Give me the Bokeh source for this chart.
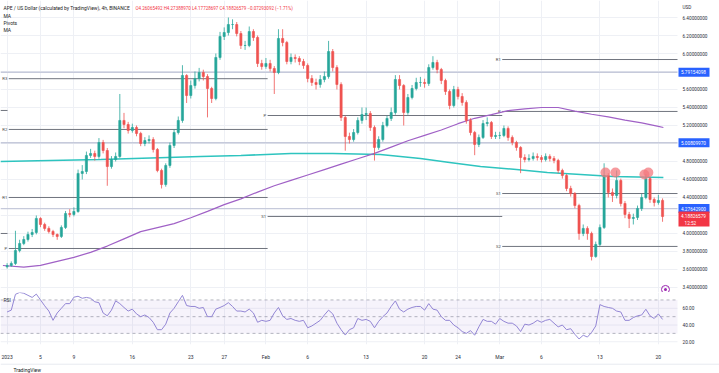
import numpy as np
from bokeh.plotting import figure
from bokeh.layouts import column
from bokeh.models import (ColumnDataSource, FixedTicker, Range1d, Label, BoxAnnotation)
from bokeh.core.properties import value
from bokeh.embed import file_html
from bokeh.resources import INLINE

FONT = "Roboto"
FS = "4.7px"

# ---------------- data (12h candles from 2023-01-01, day units) ----------------
first_open = 3.630
close = [
    3.644, 3.667, 3.811, 3.889, 3.933, 3.989, 4.011, 4.167, 4.100, 4.056,
    4.022, 3.989, 3.967, 4.067, 4.222, 4.211, 4.244, 4.667, 4.689, 4.867,
    4.889, 4.856, 5.011, 4.922, 4.744, 4.822, 4.856, 5.256, 5.211, 5.144,
    5.178, 5.111, 5.000, 5.033, 5.044, 4.933, 4.700, 4.544, 4.756, 4.978,
    5.122, 5.256, 5.756, 5.533, 5.644, 5.722, 5.789, 5.744, 5.611, 5.500,
    5.956, 6.189, 6.233, 6.322, 6.322, 6.222, 6.089, 6.089, 6.244, 6.178,
    5.889, 5.856, 5.889, 5.833, 5.789, 6.167, 6.122, 5.911, 5.956, 5.944,
    5.911, 5.867, 5.722, 5.678, 5.656, 5.711, 5.744, 6.022, 5.844, 5.656,
    5.289, 5.078, 5.044, 5.122, 5.256, 5.322, 5.333, 5.178, 4.956, 5.044,
    5.200, 5.278, 5.344, 5.711, 5.644, 5.344, 5.511, 5.611, 5.678, 5.678,
    5.667, 5.844, 5.900, 5.822, 5.700, 5.578, 5.422, 5.600, 5.522, 5.456,
    5.256, 5.122, 4.989, 5.067, 5.222, 5.233, 5.078, 5.089, 5.089, 5.167,
    5.067, 5.011, 4.956, 4.844, 4.822, 4.833, 4.856, 4.844, 4.822, 4.856,
    4.833, 4.811, 4.700, 4.644, 4.500, 4.444, 4.311, 4.000, 4.056, 4.000,
    3.744, 3.878, 4.067, 4.644, 4.456, 4.422, 4.589, 4.333, 4.211, 4.167,
    4.178, 4.278, 4.400, 4.611, 4.378, 4.344, 4.367, 4.18826579]
high = [
    3.67, 3.69, 4.03, 3.93, 3.97, 4.02, 4.05, 4.20, 4.18, 4.12,
    4.08, 4.04, 4.00, 4.09, 4.25, 4.27, 4.29, 4.71, 4.76, 4.91,
    4.94, 4.92, 5.06, 5.04, 4.95, 4.86, 4.90, 5.55, 5.34, 5.24,
    5.22, 5.20, 5.13, 5.07, 5.09, 5.07, 4.95, 4.72, 4.78, 5.01,
    5.16, 5.30, 5.87, 5.77, 5.70, 5.80, 5.84, 5.82, 5.77, 5.63,
    6.00, 6.24, 6.29, 6.40, 6.38, 6.35, 6.25, 6.14, 6.30, 6.27,
    6.20, 5.93, 5.95, 5.93, 5.86, 6.27, 6.27, 6.14, 6.00, 5.99,
    5.97, 5.94, 5.89, 5.76, 5.72, 5.76, 5.80, 6.14, 6.05, 5.87,
    5.68, 5.31, 5.12, 5.16, 5.29, 5.40, 5.40, 5.36, 5.20, 5.08,
    5.24, 5.31, 5.40, 5.76, 5.76, 5.66, 5.55, 5.65, 5.73, 5.74,
    5.72, 5.88, 5.97, 5.93, 5.84, 5.72, 5.60, 5.64, 5.63, 5.56,
    5.48, 5.28, 5.14, 5.10, 5.26, 5.29, 5.25, 5.13, 5.13, 5.20,
    5.19, 5.09, 5.03, 4.97, 4.88, 4.88, 4.90, 4.89, 4.87, 4.89,
    4.88, 4.86, 4.83, 4.72, 4.66, 4.53, 4.46, 4.33, 4.10, 4.08,
    4.02, 3.91, 4.10, 4.78, 4.67, 4.50, 4.70, 4.61, 4.36, 4.24,
    4.22, 4.31, 4.44, 4.66, 4.63, 4.40, 4.43, 4.39]
low = [
    3.61, 3.63, 3.65, 3.79, 3.87, 3.91, 3.96, 3.99, 4.07, 4.03,
    4.00, 3.96, 3.93, 3.95, 4.05, 4.18, 4.19, 4.23, 4.60, 4.66,
    4.84, 4.81, 4.83, 4.89, 4.53, 4.72, 4.80, 4.84, 5.17, 5.11,
    5.12, 5.08, 4.97, 4.97, 5.00, 4.90, 4.68, 4.50, 4.52, 4.73,
    4.95, 5.10, 5.23, 5.45, 5.50, 5.61, 5.69, 5.70, 5.29, 5.45,
    5.48, 5.93, 6.15, 6.20, 6.27, 6.19, 6.05, 6.04, 6.07, 6.14,
    5.85, 5.82, 5.83, 5.80, 5.55, 5.77, 6.08, 5.88, 5.88, 5.90,
    5.87, 5.83, 5.68, 5.64, 5.60, 5.62, 5.68, 5.72, 5.80, 5.60,
    5.25, 4.92, 5.00, 5.02, 5.10, 5.22, 5.26, 5.14, 4.81, 4.93,
    5.02, 5.18, 5.25, 5.32, 5.60, 5.20, 5.32, 5.49, 5.59, 5.63,
    5.62, 5.64, 5.82, 5.78, 5.66, 5.54, 5.38, 5.40, 5.49, 5.42,
    5.22, 5.09, 4.87, 4.96, 5.05, 5.19, 5.05, 5.05, 5.05, 5.07,
    5.03, 4.98, 4.92, 4.67, 4.79, 4.80, 4.81, 4.81, 4.79, 4.80,
    4.80, 4.78, 4.67, 4.61, 4.47, 4.41, 4.28, 3.93, 3.97, 3.93,
    3.70, 3.73, 3.86, 4.05, 4.40, 4.35, 4.39, 4.30, 4.17, 4.06,
    4.10, 4.15, 4.25, 4.38, 4.34, 4.30, 4.32, 4.13]
rsi = [
    55.6, 57.8, 76.7, 79.0, 78.0, 75.5, 73.0, 77.0, 70.0, 63.0,
    56.7, 45.6, 54.4, 60.0, 65.6, 65.6, 73.3, 74.4, 72.0, 73.0,
    72.0, 67.8, 66.7, 54.4, 51.0, 57.8, 68.9, 65.6, 61.0, 56.7,
    59.0, 53.3, 50.0, 52.0, 49.0, 43.3, 34.4, 34.4, 41.0, 54.4,
    60.0, 67.8, 75.5, 63.3, 62.2, 62.2, 60.0, 61.0, 50.0, 50.0,
    59.0, 61.0, 63.3, 66.7, 62.2, 56.7, 56.7, 55.6, 59.0, 54.4,
    43.3, 45.6, 44.4, 45.6, 54.4, 61.0, 51.0, 46.7, 47.8, 45.6,
    44.4, 45.6, 36.7, 38.9, 42.2, 45.6, 52.0, 57.8, 53.3, 42.2,
    34.4, 28.0, 34.4, 36.7, 47.8, 45.6, 46.7, 44.4, 36.7, 44.4,
    50.0, 54.4, 62.2, 68.9, 58.9, 55.6, 59.0, 61.0, 62.2, 62.2,
    57.8, 65.6, 59.0, 57.8, 50.0, 45.6, 45.6, 40.0, 36.7, 32.2,
    30.0, 33.3, 27.8, 37.8, 46.7, 44.4, 44.4, 41.0, 47.8, 44.4,
    42.2, 42.2, 38.9, 32.2, 41.0, 40.0, 42.2, 45.6, 43.3, 45.6,
    46.7, 42.2, 37.8, 40.0, 34.4, 35.6, 28.9, 23.3, 27.8, 25.6,
    31.1, 38.9, 64.4, 62.2, 61.0, 60.0, 56.7, 55.6, 45.6, 45.6,
    48.9, 51.0, 52.0, 58.9, 51.0, 47.8, 53.3, 46.7]

# moving averages (read at selected days)
ma_teal_days = [-0.8, 5.2, 11.2, 17.2, 23.2, 28.0, 34.0, 39.0, 44.7, 49.5,
                53.0, 56.7, 61.0, 64.7, 68.7, 72.6, 78.6]
ma_teal = [4.800, 4.811, 4.822, 4.839, 4.856, 4.867, 4.889, 4.889, 4.878, 4.833,
           4.789, 4.744, 4.711, 4.678, 4.656, 4.633, 4.622]
ma_purple_days = [-0.5, 2, 4, 6, 8, 10, 12, 14, 16, 18, 20, 22, 24, 26, 28, 30,
                  32, 34, 36, 38, 40, 42, 44, 46, 48, 50, 52, 54, 56, 58, 60, 62,
                  64, 66, 68, 70, 72, 74, 76, 78, 78.6]
ma_purple = [3.644, 3.625, 3.645, 3.690, 3.735, 3.790, 3.860, 3.940, 4.020, 4.065,
             4.110, 4.175, 4.245, 4.320, 4.385, 4.460, 4.530, 4.590, 4.650, 4.710,
             4.770, 4.830, 4.890, 4.960, 5.030, 5.090, 5.150, 5.220, 5.280, 5.320,
             5.365, 5.385, 5.400, 5.400, 5.360, 5.325, 5.295, 5.260, 5.230, 5.190,
             5.178]

# monthly pivots
pivot_names = ["R3", "R2", "R1", "P", "P", "S1", "R1", "P", "S1", "S2"]
pivot_values = [5.720, 5.156, 4.400, 3.833, 5.311, 4.189, 5.933, 5.356, 4.444, 3.856]
pivot_start = [0.2, 0.2, 0.2, 0.2, 31.2, 31.2, 59.3, 59.3, 59.3, 59.3]
pivot_end = [31.2, 31.2, 31.2, 31.2, 59.3, 59.3, 80.29, 80.29, 80.29, 80.29]
prev_pivot_values = [5.367, 4.000]

level_values = [5.79154098, 5.00809970, 4.27642900]
last_price = 4.18826579
countdown = "12:52"

mark_days = [71.66, 72.86, 76.33, 76.80]
mark_prices = [4.678, 4.678, 4.656, 4.678]

date_ticks = [0, 4, 8, 15, 22, 26, 31, 36, 43, 50, 54, 59, 64, 71, 78]
date_labels = ["2023", "5", "9", "16", "23", "27", "Feb", "6", "13", "20", "24",
               "Mar", "6", "13", "20"]
price_ticks = [6.4, 6.2, 6.0, 5.6, 5.4, 5.2, 4.8, 4.6, 4.4, 4.0, 3.8, 3.6, 3.4]
price_grid = [6.4, 6.2, 6.0, 5.8, 5.6, 5.4, 5.2, 5.0, 4.8, 4.6, 4.4, 4.2, 4.0, 3.8, 3.6, 3.4]
rsi_ticks = [20, 40, 60]
rsi_bands = [70, 50, 30]

header = "APE / US Dollar (calculated by TradingView), 4h, BINANCE"
ohlc_text = "O4.26065492 H4.27388970 L4.17728697 C4.18826579 \u22120.07293092 (\u22121.71%)"

# ---------------- geometry ----------------
W = 719
FRAME_W = 677          # plotting area width (px); the rest is the price scale
X0, X1 = -0.79, 80.29  # visible days in the plotting area
SCALE = FRAME_W / (X1 - X0)
XEND = X1 + (W - FRAME_W) / SCALE
AX_TXT = X1 + 5 / SCALE
BOX_C = X1 + 16.5 / SCALE
GRID = "#eef0f5"
TXT = "#2a2e39"

# ---------------- derived ----------------
t = np.arange(len(close)) * 0.5
opens = [first_open] + close[:-1]
GREEN, RED = "#26a69a", "#ef5350"
colors = [GREEN if c >= o else RED for o, c in zip(opens, close)]
src = ColumnDataSource(dict(
    t=t, h=high, l=low,
    top=[max(o, c) for o, c in zip(opens, close)],
    bot=[min(o, c) for o, c in zip(opens, close)],
    col=colors))


def txt(fig, x, y, s, color=TXT, size=FS, align="left", baseline="middle", xo=0):
    fig.text(x=x, y=y, text=s, text_font=value(FONT), text_font_size=value(size),
             text_color=color, text_align=align, text_baseline=baseline, x_offset=xo)


# ---------------- main price pane ----------------
MAIN_H = 292
p = figure(width=W, height=MAIN_H, x_range=Range1d(X0, XEND),
           y_range=Range1d(3.344, 6.589), x_axis_location=None, y_axis_location=None,
           output_backend="svg", toolbar_location=None,
           min_border_left=0, min_border_right=0, min_border_top=0, min_border_bottom=0)
p.outline_line_color = None
p.ygrid.grid_line_color = None
p.xgrid.ticker = FixedTicker(ticks=date_ticks)
p.xgrid.grid_line_color = GRID
p.segment(x0=[X0] * len(price_grid), x1=[X1] * len(price_grid), y0=price_grid,
          y1=price_grid, line_color=GRID, line_width=1)

# horizontal level lines
p.segment(x0=[X0] * 3, x1=[X1] * 3, y0=level_values, y1=level_values,
          line_color="#c6cadb", line_width=1.4)

# pivots
p.segment(x0=pivot_start, x1=pivot_end, y0=pivot_values, y1=pivot_values,
          line_color="#70747e", line_width=1)
p.segment(x0=[X0] * len(prev_pivot_values), x1=[0.05] * len(prev_pivot_values),
          y0=prev_pivot_values, y1=prev_pivot_values, line_color="#70747e", line_width=1)
txt(p, pivot_start, pivot_values, pivot_names, color="#444444", size="4.2px",
    align="right", xo=-1.5)

# moving averages
p.line(ma_teal_days, ma_teal, line_color="#2ec4bf", line_width=1.6)
p.line(ma_purple_days, ma_purple, line_color="#a061c6", line_width=1.2)

# candles
p.segment(x0="t", x1="t", y0="l", y1="h", line_color="col", line_width=0.8, source=src)
p.vbar(x="t", width=0.26, top="top", bottom="bot", fill_color="col",
       line_color="col", line_width=0.6, source=src)

# highlight markers
p.scatter(mark_days, mark_prices, size=10, fill_color="#f3787e", fill_alpha=0.75,
          line_color=None)
# small icon bottom right
p.scatter([78.85], [3.378], size=8, fill_color=None, line_color="#9c27b0", line_width=1)
p.scatter([78.85], [3.378], size=3, fill_color="#9c27b0", line_color=None)

# header texts (screen units, measured from the bottom of the pane)
p.add_layout(Label(x=3, y=MAIN_H - 7.5, x_units="screen", y_units="screen", text=header,
                   text_font=FONT, text_font_size="4.95px", text_color="#222222",
                   text_baseline="middle"))
p.add_layout(Label(x=135, y=MAIN_H - 7.5, x_units="screen", y_units="screen",
                   text=ohlc_text, text_font=FONT, text_font_size="4.5px",
                   text_color="#f23645", text_baseline="middle"))
for yy, s in zip([15, 22, 29], ["MA", "Pivots", "MA"]):
    p.add_layout(Label(x=3, y=MAIN_H - yy, x_units="screen", y_units="screen", text=s,
                       text_font=FONT, text_font_size="4.95px", text_color="#222222",
                       text_baseline="middle"))

# price scale
txt(p, [AX_TXT] * len(price_ticks), price_ticks, [f"{v:.8f}" for v in price_ticks])
txt(p, [AX_TXT], [6.511], ["USD"])
p.rect(x=[BOX_C] * 3, y=level_values, width=31, height=9, width_units="screen",
       height_units="screen", fill_color="#2962ff", line_color=None)
txt(p, [X1 + 3.5 / SCALE] * 3, level_values, [f"{v:.8f}" for v in level_values],
    color="white")
p.rect(x=[BOX_C], y=[4.161], width=31, height=15, width_units="screen",
       height_units="screen", fill_color="#f23645", line_color=None)
txt(p, [X1 + 3.5 / SCALE], [4.192], [f"{last_price:.8f}"], color="white")
txt(p, [X1 + 7 / SCALE], [4.112], [countdown], color="white")

# ---------------- RSI pane ----------------
r = figure(width=W, height=70, x_range=p.x_range, y_range=Range1d(16.7, 78.9),
           y_axis_location=None, output_backend="svg", toolbar_location=None,
           min_border_left=0, min_border_right=0, min_border_top=0,
           min_border_bottom=14)
r.outline_line_color = None
r.ygrid.grid_line_color = None
r.segment(x0=[X0] * 3, x1=[X1] * 3, y0=rsi_ticks, y1=rsi_ticks, line_color=GRID)
r.add_layout(BoxAnnotation(left=X0, right=X1, bottom=30, top=70, fill_color="#7e57c2",
                           fill_alpha=0.07, line_color=None))
r.segment(x0=[X0] * 3, x1=[X1] * 3, y0=rsi_bands, y1=rsi_bands, line_color="#a3a6af",
          line_width=0.8, line_dash="3 3")
r.line(t, rsi, line_color="#958ad6", line_width=1)
txt(r, [AX_TXT] * 3, rsi_ticks, [f"{v:.2f}" for v in rsi_ticks])
txt(r, [X0], [69.5], ["RSI"], size="5px", xo=3)

r.xaxis.ticker = FixedTicker(ticks=date_ticks)
r.xaxis.major_label_overrides = {tk: lb for tk, lb in zip(date_ticks, date_labels)}
r.xaxis.axis_line_color = None
r.xaxis.major_tick_line_color = None
r.xaxis.minor_tick_line_color = None
r.xaxis.major_label_text_font_size = "5px"
r.xaxis.major_label_text_font = FONT
r.xaxis.major_label_text_color = TXT
r.xaxis.major_label_standoff = 3
r.xgrid.ticker = FixedTicker(ticks=date_ticks)
r.xgrid.grid_line_color = GRID

# ---------------- footer (TradingView mark) ----------------
f = figure(width=W, height=11, x_range=p.x_range, y_range=Range1d(0, 1),
           x_axis_location=None, y_axis_location=None, output_backend="svg",
           toolbar_location=None, min_border_left=0, min_border_right=0,
           min_border_top=0, min_border_bottom=0)
f.outline_line_color = None
f.xgrid.grid_line_color = None
f.ygrid.grid_line_color = None
f.segment(x0=[X0], x1=[X1 + 42 / SCALE], y0=[0.95], y1=[0.95], line_color="#e0e3eb")
txt(f, [X0], [0.45], ["TradingView"], color="#131722", size="5px", xo=13)

layout = column(p, r, f, spacing=0)
open("out.html", "w").write(file_html(layout, INLINE))
